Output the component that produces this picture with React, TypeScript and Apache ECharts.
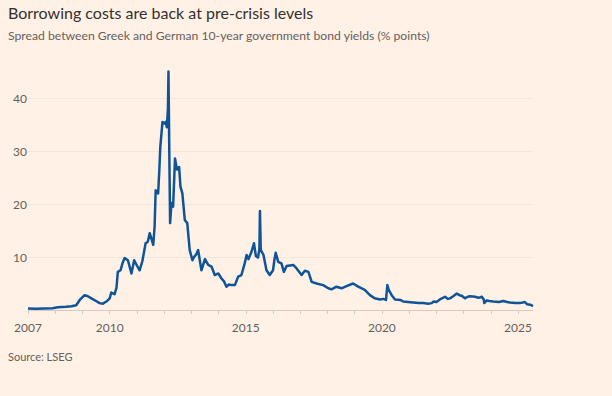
import React, { useEffect, useRef } from "react";
import * as echarts from "echarts";

// Decimal year positions and Greek–German 10-year spread (% points)
const years: number[] = [
  2007.0, 2007.3, 2007.6, 2007.9, 2008.1, 2008.4, 2008.6, 2008.77, 2008.9, 2009.08,
  2009.2, 2009.33, 2009.5, 2009.63, 2009.75, 2009.88, 2010.0, 2010.06, 2010.18, 2010.25,
  2010.3, 2010.4, 2010.47, 2010.55, 2010.67, 2010.8, 2010.9, 2011.0, 2011.1, 2011.2,
  2011.32, 2011.4, 2011.47, 2011.55, 2011.6, 2011.65, 2011.69, 2011.78, 2011.82, 2011.86,
  2011.94, 2012.0, 2012.06, 2012.1, 2012.14, 2012.16, 2012.19, 2012.22, 2012.27, 2012.33,
  2012.4, 2012.47, 2012.55, 2012.6, 2012.67, 2012.76, 2012.85, 2012.94, 2013.04, 2013.1,
  2013.18, 2013.25, 2013.37, 2013.44, 2013.5, 2013.62, 2013.74, 2013.86, 2013.99, 2014.1,
  2014.2, 2014.29, 2014.38, 2014.47, 2014.6, 2014.72, 2014.84, 2014.96, 2015.03, 2015.1,
  2015.21, 2015.3, 2015.37, 2015.45, 2015.5, 2015.52, 2015.55, 2015.65, 2015.76, 2015.88,
  2016.0, 2016.05, 2016.1, 2016.19, 2016.31, 2016.4, 2016.5, 2016.62, 2016.74, 2016.86,
  2017.05, 2017.17, 2017.3, 2017.42, 2017.6, 2017.84, 2018.03, 2018.15, 2018.33, 2018.52,
  2018.7, 2018.94, 2019.13, 2019.37, 2019.56, 2019.74, 2019.93, 2020.05, 2020.15, 2020.2,
  2020.25, 2020.36, 2020.48, 2020.68, 2020.78, 2020.95, 2021.15, 2021.35, 2021.52, 2021.7,
  2021.83, 2021.9, 2022.0, 2022.13, 2022.32, 2022.42, 2022.5, 2022.62, 2022.75, 2022.85,
  2022.93, 2023.05, 2023.15, 2023.24, 2023.42, 2023.55, 2023.67, 2023.74, 2023.76, 2023.85,
  2023.95, 2024.09, 2024.3, 2024.46, 2024.6, 2024.7, 2024.9, 2025.07, 2025.25, 2025.33,
  2025.45, 2025.55,
];

const spread: number[] = [
  0.3, 0.25, 0.3, 0.35, 0.5, 0.6, 0.7, 0.9, 1.9, 2.8,
  2.6, 2.2, 1.7, 1.3, 1.2, 1.6, 2.2, 3.3, 3.0, 4.2,
  7.2, 7.5, 8.8, 9.8, 9.4, 6.9, 9.4, 8.4, 7.5, 9.2,
  12.6, 12.9, 14.5, 13.2, 12.3, 15.7, 22.6, 22.0, 26.0, 30.8,
  35.5, 35.2, 35.5, 34.5, 38.0, 45.0, 30.0, 16.4, 20.2, 19.5,
  28.6, 26.5, 27.0, 23.3, 22.0, 17.0, 16.4, 11.3, 9.4, 10.0,
  10.5, 11.3, 7.5, 8.6, 9.6, 8.5, 8.2, 6.6, 6.9, 6.0,
  5.4, 4.4, 4.8, 4.7, 4.7, 6.3, 6.6, 8.8, 10.4, 9.6,
  11.0, 12.6, 10.2, 9.9, 11.5, 18.7, 11.3, 10.4, 7.5, 6.6,
  7.5, 9.4, 10.8, 9.1, 8.8, 7.2, 8.3, 8.4, 8.5, 7.9,
  6.6, 7.4, 7.2, 5.3, 5.0, 4.7, 4.1, 3.9, 4.4, 4.1,
  4.5, 5.0, 4.4, 3.8, 2.8, 2.2, 2.0, 2.1, 1.9, 4.7,
  3.8, 2.8, 2.0, 1.9, 1.6, 1.5, 1.4, 1.3, 1.3, 1.2,
  1.3, 1.6, 1.5, 2.0, 2.5, 2.1, 2.2, 2.6, 3.1, 2.8,
  2.7, 2.2, 2.5, 2.6, 2.5, 2.3, 2.5, 2.0, 1.3, 1.8,
  1.7, 1.6, 1.5, 1.7, 1.5, 1.4, 1.3, 1.3, 1.5, 1.1,
  1.0, 0.75,
];

const xTickYears: number[] = [
  2007, 2008, 2009, 2010, 2011, 2012, 2013, 2014, 2015, 2016,
  2017, 2018, 2019, 2020, 2021, 2022, 2023, 2024, 2025,
];
const xLabelYears: number[] = [2007, 2010, 2015, 2020, 2025];
const yGridValues: number[] = [0, 10, 20, 30, 40];
const yLabelValues: number[] = [10, 20, 30, 40];

const titleText = "Borrowing costs are back at pre-crisis levels";
const subtitleText = "Spread between Greek and German 10-year government bond yields (% points)";
const sourceText = "Source: LSEG";

export default function App() {
  const ref = useRef<HTMLDivElement>(null);

  useEffect(() => {
    if (!ref.current) return;
    const chart = echarts.init(ref.current, null, { renderer: "svg" });
    const font = "Lato, 'Open Sans', sans-serif";
    chart.setOption({
      animation: false,
      backgroundColor: "#FFF1E5",
      textStyle: { fontFamily: font },
      grid: { left: 28, right: 79, top: 61, bottom: 86, containLabel: false },
      xAxis: {
        type: "value",
        min: 2007,
        max: 2025.55,
        axisLine: { show: true, lineStyle: { color: "#d6cbc1", width: 1 } },
        axisTick: {
          show: true,
          customValues: xTickYears,
          length: 4,
          lineStyle: { color: "#d6cbc1" },
        },
        axisLabel: {
          customValues: xLabelYears,
          formatter: (v: number) => String(Math.round(v)),
          color: "#66605c",
          fontSize: 12,
          margin: 11,
          fontFamily: font,
        },
        splitLine: { show: false },
      },
      yAxis: {
        type: "value",
        min: 0,
        max: 47,
        axisLine: { show: false },
        axisTick: { show: false, customValues: yGridValues },
        axisLabel: {
          customValues: yLabelValues,
          align: "left",
          margin: 15,
          color: "#66605c",
          fontSize: 12,
          fontFamily: font,
        },
        splitLine: { show: true, lineStyle: { color: "#f2e5da", width: 1 } },
      },
      series: [
        {
          type: "line",
          data: years.map((y, i) => [y, spread[i]]),
          showSymbol: false,
          symbol: "none",
          lineStyle: { color: "#0f5499", width: 2.5, join: "round" },
        },
      ],
      graphic: [
        {
          type: "text",
          left: 8,
          top: 4,
          style: { text: titleText, fill: "#33302e", fontSize: 16, fontFamily: font },
        },
        {
          type: "text",
          left: 8,
          top: 29,
          style: { text: subtitleText, fill: "#66605c", fontSize: 12.2, fontFamily: font },
        },
        {
          type: "text",
          left: 8,
          top: 351,
          style: { text: sourceText, fill: "#66605c", fontSize: 11, fontFamily: font },
        },
      ],
    });
    return () => chart.dispose();
  }, []);

  return (
    <div
      ref={ref}
      style={{ position: "fixed", left: 0, top: 0, width: 612, height: 396 }}
    />
  );
}
